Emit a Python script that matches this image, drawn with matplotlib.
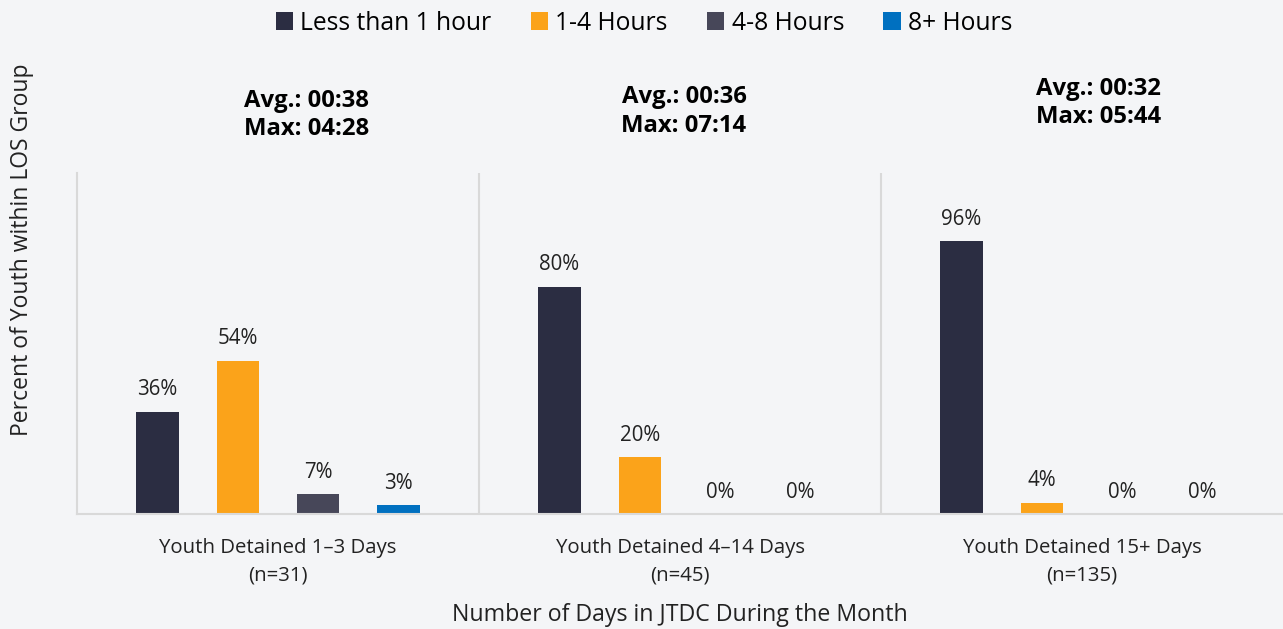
import numpy as np
import matplotlib.pyplot as plt

plt.rcParams['font.family'] = ['Open Sans', 'DejaVu Sans']

groups = ["Youth Detained 1\u20133 Days\n(n=31)",
          "Youth Detained 4\u201314 Days\n(n=45)",
          "Youth Detained 15+ Days\n(n=135)"]
series = ["Less than 1 hour", "1-4 Hours", "4-8 Hours", "8+ Hours"]
less_1h = [36, 80, 96]
h1_4 = [54, 20, 4]
h4_8 = [7, 0, 0]
h8_plus = [3, 0, 0]
notes = ["Avg.: 00:38\nMax: 04:28",
         "Avg.: 00:36\nMax: 07:14",
         "Avg.: 00:32\nMax: 05:44"]

colors = ["#2b2d42", "#fba31a", "#474759", "#0070c0"]
bg = "#f4f5f7"

fig = plt.figure(figsize=(12.83, 6.29), dpi=100, facecolor=bg)
ax = fig.add_axes([77/1283, 1-514/629, (1283-77)/1283, (514-173)/629])
ax.set_facecolor(bg)

x = np.arange(len(groups))
w = 0.105
offsets = [-0.3, -0.1, 0.1, 0.3]
for vals, name, c, off in zip([less_1h, h1_4, h4_8, h8_plus], series, colors, offsets):
    bars = ax.bar(x + off, vals, w, color=c, label=name)
    for b, v in zip(bars, vals):
        ax.text(b.get_x() + b.get_width()/2, v + 4, f"{v}%", ha='center', va='bottom',
                fontsize=14.8, color='#222222')

ax.set_xlim(-0.5, 2.5)
ax.set_ylim(0, 120)
ax.set_yticks([])
ax.set_xticks(x)
ax.set_xticklabels(groups, fontsize=14.7, color='#222222', linespacing=1.5)
ax.tick_params(axis='x', length=0, pad=17)
for s in ['top', 'right']:
    ax.spines[s].set_visible(False)
for s in ['left', 'bottom']:
    ax.spines[s].set_color('#d9d9d9')
    ax.spines[s].set_linewidth(1.5)
for xv in [0.5, 1.5]:
    ax.axvline(xv, color='#d9d9d9', lw=1.5)

note_pos = [(0.07, 1.17), (0.01, 1.18), (0.04, 1.205)]
for i, (n, (dx, yy)) in enumerate(zip(notes, note_pos)):
    ax.text(i + dx, yy, n, transform=ax.get_xaxis_transform(), ha='center', va='center',
            fontsize=17.2, fontweight='bold', linespacing=1.25)

ax.set_xlabel("Number of Days in JTDC During the Month", fontsize=16.7, labelpad=13, color='#222222')
fig.text(22/1283, 1-250/629, "Percent of Youth within LOS Group", rotation=90,
         ha='center', va='center', fontsize=16.5, color='#222222')

fig.legend(loc='center', bbox_to_anchor=(644/1283, 1-23/629), ncol=4, frameon=False,
           fontsize=17.7, handlelength=0.7, handleheight=0.7, handletextpad=0.3,
           columnspacing=1.6)

fig.savefig("out.png", dpi=100, facecolor=bg)
